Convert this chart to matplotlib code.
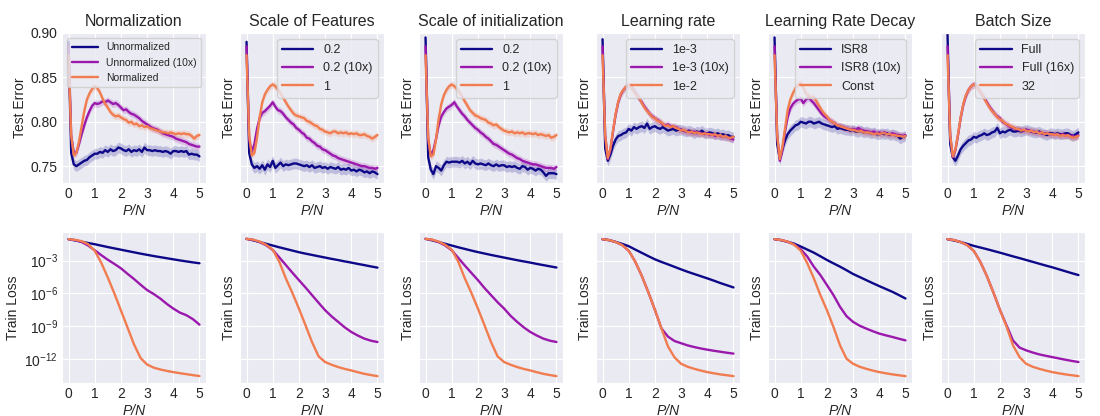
import numpy as np
import matplotlib
matplotlib.use('Agg')
import matplotlib.pyplot as plt
import seaborn as sns

sns.set_style('darkgrid')
plt.rcParams['font.family'] = ['Liberation Sans', 'DejaVu Sans']

# x grids (P/N)
P_N = np.round(np.arange(51) * 0.1, 1)
P_N_LOSS = np.arange(21) * 0.25

titles = ['Normalization', 'Scale of Features', 'Scale of initialization',
          'Learning rate', 'Learning Rate Decay', 'Batch Size']
labels = [['Unnormalized', 'Unnormalized (10x)', 'Normalized'],
          ['0.2', '0.2 (10x)', '1'],
          ['0.2', '0.2 (10x)', '1'],
          ['1e-3', '1e-3 (10x)', '1e-2'],
          ['ISR8', 'ISR8 (10x)', 'Const'],
          ['Full', 'Full (16x)', '32']]

# ---- test error (top row) ----
te_norm_a = [0.890, 0.765, 0.752, 0.750, 0.752, 0.754, 0.756, 0.757, 0.760, 0.762, 0.764, 0.764, 0.766, 0.765, 0.768, 0.766, 0.769, 0.767, 0.768, 0.771, 0.770, 0.768, 0.767, 0.769, 0.766, 0.768, 0.767, 0.769, 0.766, 0.771, 0.768, 0.768, 0.767, 0.768, 0.767, 0.767, 0.766, 0.767, 0.766, 0.764, 0.767, 0.767, 0.766, 0.767, 0.766, 0.767, 0.763, 0.764, 0.763, 0.763, 0.761]
te_norm_b = [0.885, 0.785, 0.765, 0.765, 0.775, 0.786, 0.796, 0.805, 0.812, 0.818, 0.821, 0.820, 0.821, 0.823, 0.822, 0.824, 0.822, 0.820, 0.821, 0.819, 0.816, 0.813, 0.814, 0.811, 0.809, 0.808, 0.806, 0.804, 0.801, 0.799, 0.797, 0.795, 0.793, 0.792, 0.791, 0.789, 0.787, 0.786, 0.785, 0.784, 0.783, 0.781, 0.780, 0.779, 0.778, 0.777, 0.775, 0.774, 0.773, 0.772, 0.772]
te_norm_c = [0.875, 0.785, 0.762, 0.765, 0.778, 0.795, 0.812, 0.825, 0.832, 0.837, 0.840, 0.838, 0.833, 0.826, 0.820, 0.816, 0.811, 0.808, 0.806, 0.807, 0.805, 0.803, 0.802, 0.799, 0.800, 0.797, 0.798, 0.795, 0.796, 0.794, 0.795, 0.793, 0.792, 0.791, 0.790, 0.789, 0.788, 0.788, 0.787, 0.788, 0.787, 0.786, 0.787, 0.786, 0.787, 0.786, 0.786, 0.784, 0.781, 0.784, 0.785]

te_feat_a = [0.890, 0.765, 0.752, 0.748, 0.750, 0.747, 0.751, 0.746, 0.752, 0.749, 0.756, 0.748, 0.751, 0.754, 0.750, 0.752, 0.751, 0.752, 0.753, 0.753, 0.752, 0.751, 0.750, 0.751, 0.749, 0.751, 0.748, 0.749, 0.750, 0.748, 0.749, 0.747, 0.749, 0.748, 0.747, 0.749, 0.746, 0.747, 0.746, 0.748, 0.745, 0.746, 0.744, 0.746, 0.745, 0.743, 0.744, 0.742, 0.744, 0.743, 0.741]
te_feat_b = [0.885, 0.780, 0.766, 0.775, 0.792, 0.804, 0.810, 0.812, 0.815, 0.818, 0.822, 0.817, 0.813, 0.812, 0.809, 0.805, 0.802, 0.799, 0.797, 0.793, 0.791, 0.788, 0.786, 0.782, 0.781, 0.778, 0.776, 0.773, 0.772, 0.769, 0.768, 0.766, 0.764, 0.762, 0.761, 0.759, 0.758, 0.757, 0.756, 0.755, 0.754, 0.753, 0.752, 0.751, 0.750, 0.750, 0.749, 0.748, 0.748, 0.747, 0.748]
te_feat_c = [0.875, 0.785, 0.762, 0.765, 0.782, 0.805, 0.822, 0.831, 0.836, 0.840, 0.842, 0.840, 0.836, 0.832, 0.827, 0.822, 0.817, 0.813, 0.809, 0.807, 0.806, 0.805, 0.804, 0.801, 0.800, 0.798, 0.796, 0.795, 0.792, 0.791, 0.789, 0.788, 0.787, 0.789, 0.789, 0.787, 0.788, 0.787, 0.788, 0.786, 0.787, 0.786, 0.787, 0.785, 0.785, 0.786, 0.784, 0.783, 0.781, 0.783, 0.785]

te_init_a = [0.895, 0.760, 0.746, 0.741, 0.750, 0.748, 0.745, 0.751, 0.755, 0.754, 0.755, 0.755, 0.755, 0.754, 0.756, 0.753, 0.755, 0.752, 0.756, 0.753, 0.752, 0.753, 0.752, 0.751, 0.753, 0.751, 0.750, 0.752, 0.750, 0.751, 0.751, 0.749, 0.750, 0.749, 0.750, 0.748, 0.747, 0.750, 0.749, 0.746, 0.748, 0.747, 0.745, 0.747, 0.746, 0.743, 0.739, 0.742, 0.742, 0.742, 0.741]
te_init_b = [0.885, 0.780, 0.762, 0.768, 0.781, 0.796, 0.806, 0.811, 0.815, 0.817, 0.819, 0.822, 0.817, 0.813, 0.809, 0.806, 0.802, 0.799, 0.796, 0.793, 0.791, 0.788, 0.786, 0.783, 0.781, 0.778, 0.775, 0.774, 0.772, 0.770, 0.768, 0.766, 0.764, 0.763, 0.761, 0.759, 0.758, 0.756, 0.755, 0.754, 0.753, 0.752, 0.752, 0.751, 0.750, 0.749, 0.748, 0.748, 0.748, 0.747, 0.749]
te_init_c = [0.875, 0.783, 0.761, 0.763, 0.780, 0.803, 0.820, 0.830, 0.836, 0.840, 0.842, 0.840, 0.837, 0.833, 0.828, 0.823, 0.818, 0.813, 0.810, 0.807, 0.806, 0.804, 0.803, 0.802, 0.799, 0.798, 0.796, 0.797, 0.794, 0.792, 0.790, 0.789, 0.788, 0.789, 0.787, 0.788, 0.787, 0.788, 0.786, 0.787, 0.787, 0.786, 0.787, 0.785, 0.786, 0.785, 0.784, 0.785, 0.782, 0.783, 0.785]

te_lr_a = [0.893, 0.770, 0.756, 0.763, 0.773, 0.780, 0.784, 0.785, 0.787, 0.788, 0.792, 0.790, 0.794, 0.792, 0.794, 0.795, 0.793, 0.798, 0.792, 0.794, 0.795, 0.793, 0.792, 0.794, 0.792, 0.790, 0.791, 0.792, 0.790, 0.791, 0.791, 0.790, 0.789, 0.790, 0.789, 0.787, 0.789, 0.788, 0.790, 0.787, 0.787, 0.788, 0.787, 0.786, 0.787, 0.785, 0.786, 0.784, 0.785, 0.783, 0.783]
te_lr_b = [0.885, 0.785, 0.758, 0.768, 0.789, 0.808, 0.822, 0.831, 0.836, 0.839, 0.841, 0.840, 0.835, 0.831, 0.826, 0.822, 0.817, 0.813, 0.809, 0.806, 0.804, 0.802, 0.800, 0.797, 0.796, 0.797, 0.795, 0.794, 0.794, 0.792, 0.791, 0.790, 0.789, 0.789, 0.788, 0.789, 0.787, 0.788, 0.787, 0.786, 0.787, 0.785, 0.786, 0.784, 0.785, 0.784, 0.783, 0.784, 0.782, 0.781, 0.780]
te_lr_c = [0.875, 0.785, 0.759, 0.770, 0.790, 0.809, 0.823, 0.832, 0.836, 0.840, 0.841, 0.839, 0.834, 0.830, 0.827, 0.821, 0.816, 0.812, 0.809, 0.805, 0.804, 0.801, 0.800, 0.798, 0.795, 0.796, 0.794, 0.795, 0.793, 0.792, 0.790, 0.791, 0.789, 0.788, 0.789, 0.787, 0.788, 0.787, 0.786, 0.787, 0.786, 0.786, 0.785, 0.786, 0.784, 0.785, 0.783, 0.784, 0.782, 0.782, 0.783]

te_decay_a = [0.895, 0.775, 0.758, 0.769, 0.779, 0.786, 0.790, 0.793, 0.796, 0.797, 0.800, 0.799, 0.798, 0.800, 0.800, 0.798, 0.799, 0.800, 0.798, 0.797, 0.796, 0.795, 0.794, 0.795, 0.792, 0.793, 0.792, 0.791, 0.791, 0.790, 0.791, 0.789, 0.789, 0.790, 0.788, 0.789, 0.788, 0.787, 0.788, 0.786, 0.786, 0.787, 0.786, 0.787, 0.785, 0.786, 0.785, 0.784, 0.781, 0.783, 0.784]
te_decay_b = [0.885, 0.785, 0.756, 0.768, 0.789, 0.805, 0.815, 0.820, 0.823, 0.825, 0.826, 0.821, 0.825, 0.827, 0.824, 0.821, 0.817, 0.813, 0.809, 0.806, 0.804, 0.802, 0.800, 0.798, 0.796, 0.795, 0.794, 0.793, 0.792, 0.791, 0.792, 0.791, 0.793, 0.791, 0.790, 0.789, 0.789, 0.788, 0.789, 0.787, 0.788, 0.787, 0.788, 0.786, 0.786, 0.787, 0.786, 0.785, 0.785, 0.784, 0.785]
te_decay_c = [0.875, 0.785, 0.758, 0.772, 0.792, 0.813, 0.825, 0.832, 0.838, 0.842, 0.844, 0.838, 0.832, 0.829, 0.827, 0.828, 0.823, 0.818, 0.813, 0.809, 0.806, 0.802, 0.800, 0.798, 0.796, 0.795, 0.794, 0.793, 0.792, 0.791, 0.791, 0.790, 0.789, 0.790, 0.788, 0.788, 0.788, 0.787, 0.786, 0.787, 0.786, 0.787, 0.787, 0.786, 0.786, 0.785, 0.785, 0.784, 0.784, 0.783, 0.784]

te_batch_a = [0.898, 0.775, 0.760, 0.756, 0.762, 0.769, 0.773, 0.776, 0.779, 0.780, 0.783, 0.782, 0.784, 0.785, 0.787, 0.785, 0.786, 0.788, 0.789, 0.793, 0.787, 0.789, 0.788, 0.790, 0.791, 0.789, 0.789, 0.790, 0.789, 0.790, 0.791, 0.790, 0.789, 0.788, 0.788, 0.789, 0.787, 0.786, 0.785, 0.787, 0.787, 0.786, 0.787, 0.786, 0.786, 0.787, 0.787, 0.785, 0.784, 0.786, 0.788]
te_batch_b = [0.885, 0.785, 0.760, 0.768, 0.785, 0.804, 0.819, 0.829, 0.836, 0.840, 0.842, 0.841, 0.836, 0.831, 0.827, 0.822, 0.817, 0.813, 0.809, 0.806, 0.804, 0.800, 0.798, 0.796, 0.794, 0.793, 0.792, 0.791, 0.791, 0.790, 0.791, 0.790, 0.789, 0.789, 0.788, 0.788, 0.787, 0.787, 0.787, 0.786, 0.786, 0.786, 0.786, 0.785, 0.786, 0.785, 0.785, 0.784, 0.784, 0.783, 0.785]
te_batch_c = [0.875, 0.785, 0.761, 0.769, 0.786, 0.805, 0.820, 0.830, 0.836, 0.840, 0.842, 0.840, 0.836, 0.832, 0.826, 0.821, 0.816, 0.812, 0.809, 0.805, 0.803, 0.801, 0.798, 0.797, 0.795, 0.794, 0.792, 0.792, 0.790, 0.791, 0.790, 0.789, 0.790, 0.788, 0.789, 0.787, 0.788, 0.786, 0.787, 0.786, 0.786, 0.785, 0.786, 0.784, 0.785, 0.784, 0.785, 0.783, 0.782, 0.783, 0.784]

# half-width of the shaded spread for each series
spread = [0.006, 0.004, 0.004]

# ---- train loss (bottom row), log10 values ----
tl_norm_a = [-1.04, -1.15, -1.27, -1.39, -1.50, -1.63, -1.76, -1.88, -2.00, -2.12, -2.24, -2.36, -2.47, -2.58, -2.68, -2.78, -2.88, -2.98, -3.07, -3.16, -3.24]
tl_norm_b = [-1.04, -1.12, -1.30, -1.62, -2.05, -2.50, -2.92, -3.30, -3.70, -4.20, -4.68, -5.20, -5.69, -6.05, -6.46, -6.95, -7.38, -7.75, -7.99, -8.35, -8.85]
tl_norm_c = [-1.04, -1.10, -1.22, -1.50, -2.10, -3.20, -4.55, -6.00, -7.55, -9.10, -10.65, -11.90, -12.50, -12.78, -12.95, -13.08, -13.19, -13.29, -13.38, -13.47, -13.55]

tl_feat_a = [-1.01, -1.14, -1.30, -1.46, -1.62, -1.78, -1.93, -2.08, -2.23, -2.36, -2.48, -2.60, -2.72, -2.84, -2.95, -3.07, -3.18, -3.30, -3.41, -3.53, -3.64]
tl_feat_b = [-1.01, -1.10, -1.30, -1.60, -2.02, -2.70, -3.40, -4.10, -4.78, -5.45, -6.15, -6.85, -7.53, -8.10, -8.60, -9.10, -9.52, -9.85, -10.13, -10.32, -10.44]
tl_feat_c = [-1.01, -1.08, -1.26, -1.55, -2.00, -3.10, -4.62, -5.95, -7.38, -8.90, -10.44, -11.75, -12.27, -12.52, -12.73, -12.90, -13.04, -13.20, -13.35, -13.46, -13.56]

tl_init_a = [-1.01, -1.14, -1.30, -1.46, -1.62, -1.78, -1.93, -2.08, -2.22, -2.35, -2.48, -2.60, -2.72, -2.84, -2.96, -3.07, -3.18, -3.30, -3.41, -3.52, -3.63]
tl_init_b = [-1.01, -1.10, -1.30, -1.62, -2.05, -2.75, -3.45, -4.12, -4.78, -5.50, -6.15, -6.80, -7.38, -8.05, -8.60, -9.10, -9.52, -9.85, -10.13, -10.32, -10.44]
tl_init_c = [-1.01, -1.08, -1.26, -1.55, -2.00, -3.10, -4.62, -5.95, -7.38, -8.90, -10.44, -11.75, -12.27, -12.52, -12.73, -12.90, -13.04, -13.20, -13.35, -13.46, -13.56]

tl_lr_a = [-1.04, -1.13, -1.29, -1.47, -1.68, -1.99, -2.29, -2.59, -2.88, -3.12, -3.34, -3.57, -3.80, -4.02, -4.22, -4.42, -4.62, -4.83, -5.05, -5.25, -5.45]
tl_lr_b = [-1.04, -1.12, -1.30, -1.58, -2.10, -3.10, -4.40, -5.90, -7.50, -9.20, -9.95, -10.35, -10.55, -10.75, -10.90, -11.03, -11.14, -11.24, -11.33, -11.42, -11.50]
tl_lr_c = [-1.04, -1.12, -1.30, -1.58, -2.10, -3.10, -4.40, -5.90, -7.50, -9.20, -10.85, -11.85, -12.43, -12.70, -12.89, -13.05, -13.19, -13.30, -13.40, -13.48, -13.56]

tl_decay_a = [-1.04, -1.13, -1.28, -1.45, -1.71, -1.99, -2.27, -2.60, -2.94, -3.25, -3.55, -3.88, -4.22, -4.50, -4.78, -5.06, -5.33, -5.59, -5.85, -6.15, -6.46]
tl_decay_b = [-1.04, -1.12, -1.28, -1.52, -1.96, -2.63, -3.55, -4.32, -5.23, -6.15, -7.22, -8.08, -8.60, -8.95, -9.21, -9.45, -9.67, -9.83, -9.98, -10.14, -10.29]
tl_decay_c = [-1.04, -1.11, -1.26, -1.55, -2.08, -3.24, -4.62, -6.15, -7.53, -9.06, -10.74, -11.97, -12.43, -12.70, -12.89, -13.05, -13.19, -13.30, -13.40, -13.48, -13.56]

tl_batch_a = [-1.04, -1.16, -1.30, -1.47, -1.65, -1.80, -1.95, -2.11, -2.27, -2.44, -2.61, -2.77, -2.94, -3.11, -3.28, -3.45, -3.61, -3.79, -3.97, -4.15, -4.32]
tl_batch_b = [-1.04, -1.12, -1.30, -1.58, -2.10, -3.10, -4.40, -5.90, -7.50, -8.90, -10.30, -10.95, -11.20, -11.40, -11.57, -11.70, -11.82, -11.94, -12.06, -12.17, -12.27]
tl_batch_c = [-1.04, -1.12, -1.30, -1.58, -2.10, -3.10, -4.40, -5.90, -7.50, -9.00, -10.75, -11.82, -12.43, -12.70, -12.89, -13.05, -13.19, -13.30, -13.40, -13.48, -13.56]

test_err = [(te_norm_a, te_norm_b, te_norm_c), (te_feat_a, te_feat_b, te_feat_c),
            (te_init_a, te_init_b, te_init_c), (te_lr_a, te_lr_b, te_lr_c),
            (te_decay_a, te_decay_b, te_decay_c), (te_batch_a, te_batch_b, te_batch_c)]
train_loss = [(tl_norm_a, tl_norm_b, tl_norm_c), (tl_feat_a, tl_feat_b, tl_feat_c),
              (tl_init_a, tl_init_b, tl_init_c), (tl_lr_a, tl_lr_b, tl_lr_c),
              (tl_decay_a, tl_decay_b, tl_decay_c), (tl_batch_a, tl_batch_b, tl_batch_c)]

colors = ['#0d0887', '#9a18ac', '#f07c50']

W, H = 1100, 416
fig = plt.figure(figsize=(W / 100, H / 100), dpi=100)
lefts = [62, 240, 419, 596, 768, 941]
aw = 144

top_axes, bot_axes = [], []
for i, l in enumerate(lefts):
    ax_t = fig.add_axes([l / W, 1 - 183 / H, aw / W, 150 / H],
                        sharey=top_axes[0] if top_axes else None)
    ax_b = fig.add_axes([l / W, 1 - 383 / H, aw / W, 151 / H],
                        sharey=bot_axes[0] if bot_axes else None)
    top_axes.append(ax_t)
    bot_axes.append(ax_b)

    for j in range(3):
        y = np.array(test_err[i][j])
        ax_t.fill_between(P_N, y - spread[j], y + spread[j], color=colors[j], alpha=0.2, lw=0)
        ax_t.plot(P_N, y, color=colors[j], lw=1.7, label=labels[i][j])
        ax_b.plot(P_N_LOSS, 10.0 ** np.array(train_loss[i][j]), color=colors[j], lw=1.7)

    ax_t.set_title(titles[i], fontsize=11.5, pad=5)
    ax_t.set_ylabel('Test Error', fontsize=10, labelpad=3)
    ax_b.set_ylabel('Train Loss', fontsize=10, labelpad=3)
    for ax in (ax_t, ax_b):
        ax.set_xlabel('P/N', fontsize=10, fontstyle='italic', labelpad=2)
        ax.set_xticks([0, 1, 2, 3, 4, 5])
        ax.tick_params(labelsize=10, length=0, pad=3)
        if i > 0:
            ax.tick_params(labelleft=False)
    ax_b.set_yscale('log')

    if i == 0:
        ax_t.legend(loc='upper right', fontsize=7.5, handlelength=2.5)
    else:
        ax_t.legend(loc='upper right', fontsize=9, handlelength=2.5)

top_axes[0].set_ylim(0.731, 0.90)
top_axes[0].set_yticks([0.75, 0.80, 0.85, 0.90])
bot_axes[0].set_yticks([1e-3, 1e-6, 1e-9, 1e-12])
for ax in bot_axes:
    ax.yaxis.set_minor_locator(matplotlib.ticker.NullLocator())

fig.savefig('out.png', dpi=100)
